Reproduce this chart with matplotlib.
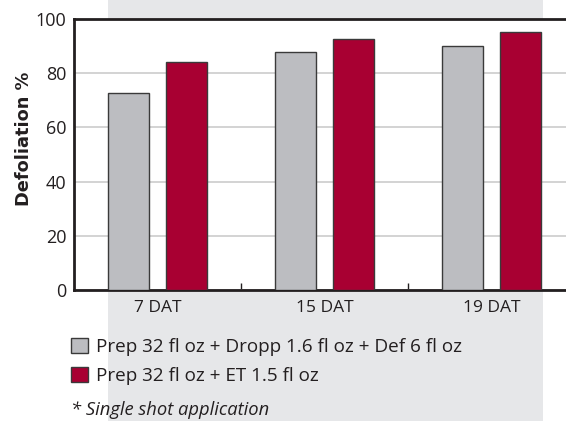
import numpy as np
import matplotlib
matplotlib.use('Agg')
import matplotlib.pyplot as plt
from matplotlib.patches import Rectangle

plt.rcParams['font.family'] = ['Open Sans', 'DejaVu Sans']

# data
groups = ['7 DAT', '15 DAT', '19 DAT']
prep_dropp = [72.6, 87.7, 90.1]
prep_et = [84.0, 92.7, 95.1]
labels = ['Prep 32 fl oz + Dropp 1.6 fl oz + Def 6 fl oz',
          'Prep 32 fl oz + ET 1.5 fl oz']
yticks = [0, 20, 40, 60, 80, 100]

txt = '#231f20'
fig = plt.figure(figsize=(5.66, 4.21), dpi=100)

# light gray panel behind the chart
fig.patches.append(Rectangle((108 / 566, 0), (543 - 108) / 566, 1,
                             transform=fig.transFigure, facecolor='#e6e7e9',
                             edgecolor='none', zorder=0))

ax = fig.add_axes([74 / 566, 1 - 290 / 421, 1 - 74 / 566, (290 - 19) / 421])
ax.set_facecolor('white')
ax.set_zorder(1)

x = np.arange(len(groups))
w = 0.245
b1 = ax.bar(x - 0.176, prep_dropp, w, color='#bcbdc1', edgecolor='#3a3a3a',
            linewidth=1, zorder=3)
b2 = ax.bar(x + 0.176, prep_et, w, color='#a80032', edgecolor='#3a3a3a',
            linewidth=1, zorder=3)

ax.set_xlim(-0.5, 2.446)
ax.set_ylim(0, 100)
ax.set_yticks(yticks)
ax.yaxis.grid(True, color='#d0d0d0', linewidth=1.3, zorder=0)
ax.set_axisbelow(True)

ax.set_xticks(x)
ax.set_xticklabels(groups)
ax.set_xticks([0.5, 1.5], minor=True)
ax.tick_params(axis='x', which='major', length=0, pad=7.5, labelsize=12.5, labelcolor=txt)
ax.tick_params(axis='x', which='minor', direction='in', length=5, width=1, color=txt)
ax.tick_params(axis='y', length=0, pad=5.5, labelsize=13, labelcolor=txt)

for s in ['left', 'top', 'bottom']:
    ax.spines[s].set_linewidth(2)
    ax.spines[s].set_color(txt)
ax.spines['right'].set_visible(False)

fig.text(24 / 566, 1 - 139 / 421, 'Defoliation %', family=['DejaVu Sans'],
         fontweight='bold', fontsize=12.8, color=txt, rotation=90,
         ha='center', va='center')

leg = fig.legend([b1, b2], labels, loc='upper left',
                 bbox_to_anchor=(71 / 566, 1 - 338 / 421), frameon=False,
                 fontsize=13.6, handlelength=0.9, handleheight=0.88,
                 handletextpad=0.4, labelspacing=0.55, borderpad=0,
                 borderaxespad=0)
for t in leg.get_texts():
    t.set_color(txt)

fig.text(71 / 566, 1 - 410 / 421, '* Single shot application', style='italic',
         fontsize=13.2, color=txt, va='center', ha='left')

fig.savefig('out.png', dpi=100)
